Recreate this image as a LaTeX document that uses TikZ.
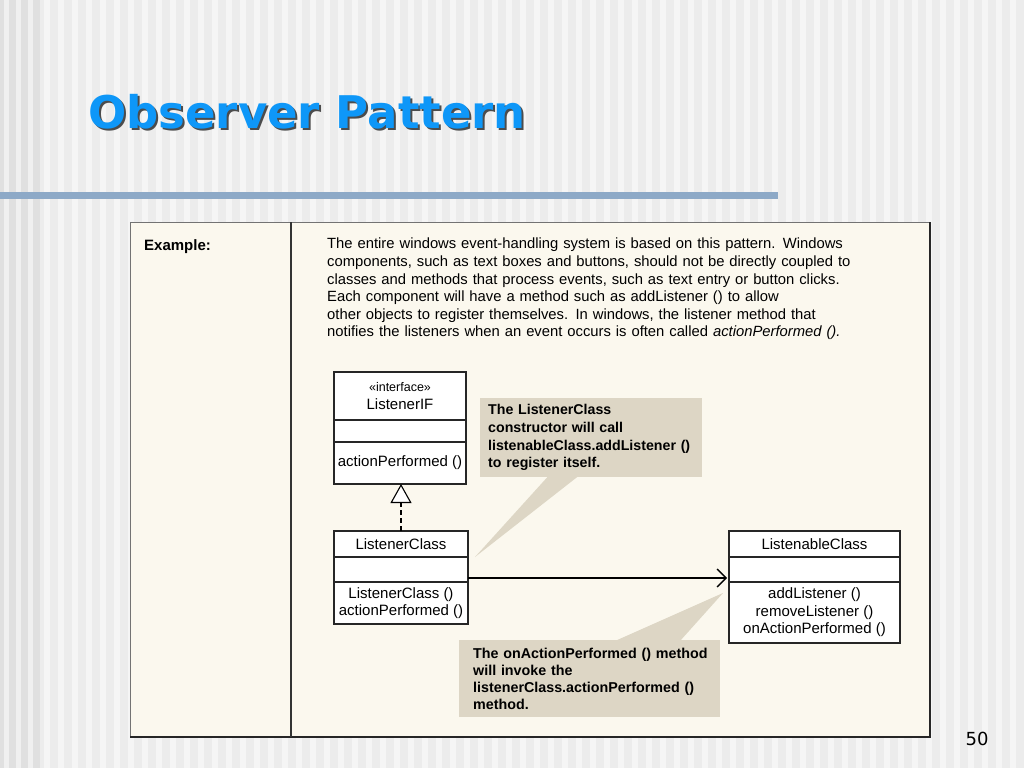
\documentclass[tikz,border=0pt]{standalone}
\usepackage{fontspec}
\setmainfont{Liberation Sans}
\newfontfamily\slidefont{DejaVu Sans}
\usetikzlibrary{arrows.meta,positioning}
\definecolor{slidegray}{HTML}{ECECEC}
\definecolor{stripegray}{HTML}{F5F5F5}
\definecolor{titleblue}{HTML}{0E97F8}
\definecolor{barblue}{HTML}{8DA9C7}
\definecolor{cream}{HTML}{FBF8EE}
\definecolor{notetan}{HTML}{DDD6C5}
\tikzset{
  umlpart/.style={draw=black!85, line width=1.1pt, fill=white, inner sep=0pt,
    outer sep=0pt, align=center, font=\fontsize{15}{17.5}\selectfont},
  notebox/.style={fill=notetan, inner xsep=8pt, inner ysep=5pt, align=left,
    anchor=north west, font=\bfseries\fontsize{14.2}{17.7}\selectfont},
  realizes/.style={line width=1.1pt, dash pattern=on 5pt off 3pt,
    -{Triangle[open, fill=white, length=19pt, width=21pt]}},
  assoc/.style={line width=1.3pt, -{Straight Barb[length=9pt, width=18pt]}}
}

\begin{document}
\begin{tikzpicture}[x=1pt, y=-1pt]

  % slide background
  \useasboundingbox (0,0) rectangle (1024,768);
  \fill[slidegray] (0,0) rectangle (1024,768);
  \foreach \sx in {44,58,...,1020}{
    \fill[stripegray] (\sx,0) rectangle ++(6,768);
  }
  \fill[black!12] (0,0) rectangle (40,768);
  \foreach \sx in {4,16,28}{
    \fill[black!6] (\sx,0) rectangle ++(5,768);
  }

  % title and bar
  \node[anchor=base west, inner sep=0pt, text=black!70,
    font=\slidefont\bfseries\fontsize{45}{50}\selectfont] (titleShadow) at (90,130) {Observer Pattern};
  \node[anchor=base west, inner sep=0pt, text=titleblue,
    font=\slidefont\bfseries\fontsize{45}{50}\selectfont] (title) at (88,128) {Observer Pattern};
  \fill[barblue] (0,192) rectangle (778,199);

  % example frame
  \draw[fill=cream, draw=black!55, line width=1pt] (130,222) rectangle (930,737);
  \draw[black!85, line width=1.6pt] (930,222) -- (930,737) -- (130,737);
  \draw[black!80, line width=1.5pt] (291,222) -- (291,737);

  \node[anchor=west, inner sep=0pt, font=\bfseries\fontsize{15}{17}\selectfont] (exLabel) at (144,247) {Example:};
  \node[anchor=north west, inner sep=0pt, text width=580pt, align=left,
    font=\fontsize{14.8}{17.6}\selectfont] (descText) at (327,238) {%
    The entire windows event-handling system is based on this pattern. Windows\\
    components, such as text boxes and buttons, should not be directly coupled to\\
    classes and methods that process events, such as text entry or button clicks.\\
    Each component will have a method such as addListener () to allow\\
    other objects to register themselves. In windows, the listener method that\\
    notifies the listeners when an event occurs is often called \textit{actionPerformed ().}};

  % ListenerIF
  \node[umlpart, minimum width=132pt, minimum height=48pt, anchor=north] (lifHead) at (400,372)
    {{\fontsize{12.5}{17}\selectfont «interface»}\\ListenerIF};
  \node[umlpart, minimum width=132pt, minimum height=22pt, below=0pt of lifHead] (lifAttr) {};
  \node[umlpart, minimum width=132pt, minimum height=42pt, below=0pt of lifAttr] (lifOps) {actionPerformed ()};

  % ListenerClass
  \node[umlpart, minimum width=134pt, minimum height=26pt, anchor=north] (lcHead) at (401,531) {ListenerClass};
  \node[umlpart, minimum width=134pt, minimum height=25pt, below=0pt of lcHead] (lcAttr) {};
  \node[umlpart, minimum width=134pt, minimum height=42pt, below=0pt of lcAttr] (lcOps)
    {ListenerClass ()\\actionPerformed ()};

  % ListenableClass
  \node[umlpart, minimum width=171pt, minimum height=26pt, anchor=north] (lbHead) at (814.5,531) {ListenableClass};
  \node[umlpart, minimum width=171pt, minimum height=25pt, below=0pt of lbHead] (lbAttr) {};
  \node[umlpart, minimum width=171pt, minimum height=61pt, below=0pt of lbAttr] (lbOps)
    {addListener ()\\removeListener ()\\onActionPerformed ()};

  % relations
  \draw[realizes] (lcHead.north) -- (lcHead.north |- lifOps.south);
  \draw[assoc] ([yshift=4pt]lcAttr.south east) -- ([yshift=4pt, xshift=-2pt]lbAttr.south west);

  % notes
  \node[notebox, text width=206pt, minimum height=79pt] (noteA) at (480,398) {%
    The ListenerClass\\constructor will call\\listenableClass.addListener ()\\to register itself.};
  \coordinate (tipA) at (475,557);
  \fill[notetan] ([xshift=68pt, yshift=1pt]noteA.south west) -- (tipA)
    -- ([xshift=98pt, yshift=1pt]noteA.south west) -- cycle;

  \node[notebox, inner xsep=14pt, text width=233pt, minimum height=77pt,
    font=\bfseries\fontsize{14.3}{17}\selectfont] (noteB) at (459,640) {%
    \mbox{The onActionPerformed () method}\\will invoke the\\\mbox{listenerClass.actionPerformed ()}\\method.};
  \coordinate (tipB) at (723,593);
  \fill[notetan] ([xshift=156pt, yshift=-1pt]noteB.north west) -- (tipB)
    -- ([xshift=221pt, yshift=-1pt]noteB.north west) -- cycle;

  % page number
  \node[font=\slidefont\fontsize{18}{20}\selectfont, inner sep=0pt] (pageNum) at (977,739) {50};

\end{tikzpicture}
\end{document}
